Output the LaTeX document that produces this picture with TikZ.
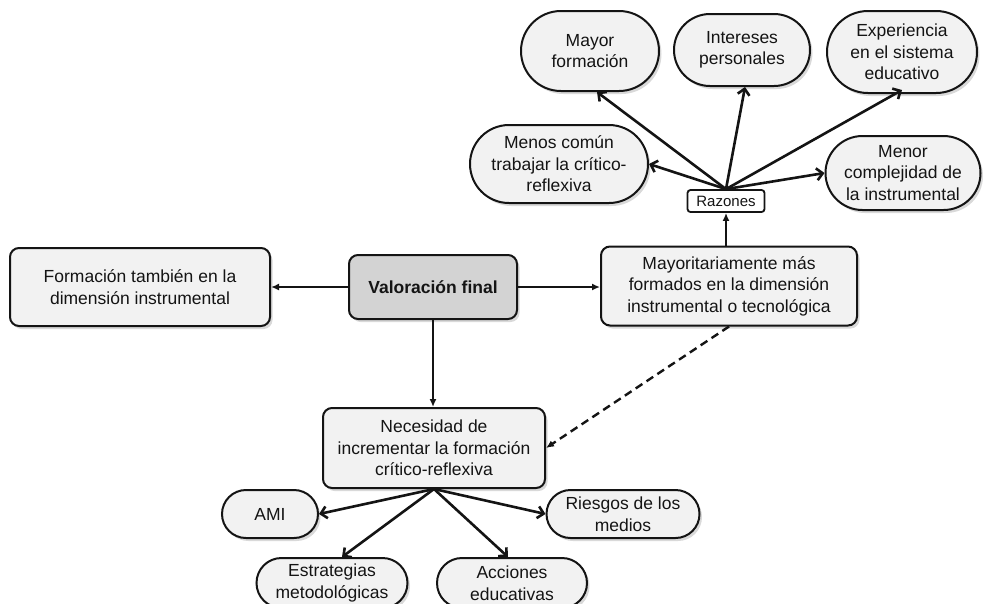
\documentclass[tikz,border=0pt]{standalone}
\usepackage{fontspec}
\setmainfont{Liberation Sans}
\usetikzlibrary{arrows.meta,shadows}
\definecolor{boxfill}{HTML}{F2F2F2}
\definecolor{keyfill}{HTML}{D3D3D3}
\definecolor{ink}{HTML}{141414}
\begin{document}
\begin{tikzpicture}[x=1pt,y=-1pt,
  base/.style={draw=ink, line width=2pt, fill=boxfill, align=center, text=ink,
     font=\fontsize{17.5}{21.5}\selectfont, inner sep=0pt,
     drop shadow={opacity=0.3, shadow xshift=2.5pt, shadow yshift=-3pt}},
  box/.style={base, rounded corners=9pt},
  pill/.style={base, rounded corners=#1},
  tag/.style={draw=ink, line width=1.8pt, fill=white, rounded corners=3pt,
     font=\fontsize{15}{17}\selectfont, text=ink, inner sep=0pt,
     minimum width=77pt, minimum height=22pt},
  link/.style={draw=ink, line width=2pt, -{Latex[length=8pt,width=7pt]}},
  spoke/.style={draw=ink, line width=2.6pt, -{Straight Barb[length=6pt,width=12pt]}},
]
\useasboundingbox (0,0) rectangle (988,603);
\clip (0,0) rectangle (988,603);

% reasons around the "Razones" tag
\node[pill=40pt, minimum width=138pt, minimum height=80pt] (mayor) at (590,51) {Mayor\\formación};
\node[pill=36pt, minimum width=136pt, minimum height=72pt] (intereses) at (742,50) {Intereses\\personales};
\node[pill=41pt, minimum width=150pt, minimum height=82pt] (experiencia) at (902,52) {Experiencia\\en el sistema\\educativo};
\node[pill=39pt, minimum width=178pt, minimum height=78pt] (menos) at (559,164) {Menos común\\trabajar la crítico-\\reflexiva};
\node[pill=37pt, minimum width=155pt, minimum height=74pt] (menor) at (903,173) {Menor\\complejidad de\\la instrumental};
\node[tag] (razones) at (726,201) {Razones};

% central row
\node[box, minimum width=260pt, minimum height=78pt] (formacion) at (140,287) {Formación también en la\\dimensión instrumental};
\node[box, fill=keyfill, font=\bfseries\fontsize{17.5}{21.5}\selectfont, minimum width=168pt, minimum height=64pt] (valoracion) at (433,287) {Valoración final};
\node[box, minimum width=256pt, minimum height=79pt] (mayoritaria) at (729,286) {Mayoritariamente más\\formados en la dimensión\\instrumental o tecnológica};

% lower part
\node[box, minimum width=222pt, minimum height=80pt] (necesidad) at (434,448) {Necesidad de\\incrementar la formación\\crítico-reflexiva};
\node[pill=24pt, minimum width=96pt, minimum height=48pt] (ami) at (270,514) {AMI};
\node[pill=24pt, minimum width=153pt, minimum height=48pt] (riesgos) at (623,514) {Riesgos de los\\medios};
\node[pill=25pt, minimum width=151pt, minimum height=50pt] (estrategias) at (332,583) {Estrategias\\metodológicas};
\node[pill=25pt, minimum width=150pt, minimum height=50pt] (acciones) at (512,583) {Acciones\\educativas};

% connectors
\draw[link] (valoracion.west) -- (valoracion.west -| formacion.east);
\draw[link] (valoracion.east) -- (valoracion.east -| mayoritaria.west);
\draw[link] (valoracion.south) -- (valoracion.south |- necesidad.north);
\draw[link] (razones.south |- mayoritaria.north) -- (razones.south);
\draw[link, line width=2.4pt, dash pattern=on 8pt off 5pt] (mayoritaria.south) -- (necesidad.east);

\draw[spoke] (razones.north) -- ([xshift=7pt]mayor.south);
\draw[spoke] (razones.north) -- ([xshift=3pt]intereses.south);
\draw[spoke] (razones.north) -- ([yshift=4pt]experiencia.south);
\draw[spoke] (razones.north) -- (menos.east);
\draw[spoke] (razones.north) -- (menor.west);

\draw[spoke] (necesidad.south) -- (ami.east);
\draw[spoke] (necesidad.south) -- ([xshift=10pt]estrategias.north);
\draw[spoke] (necesidad.south) -- ([xshift=-4pt]acciones.north);
\draw[spoke] (necesidad.south) -- (riesgos.west);
\end{tikzpicture}
\end{document}
